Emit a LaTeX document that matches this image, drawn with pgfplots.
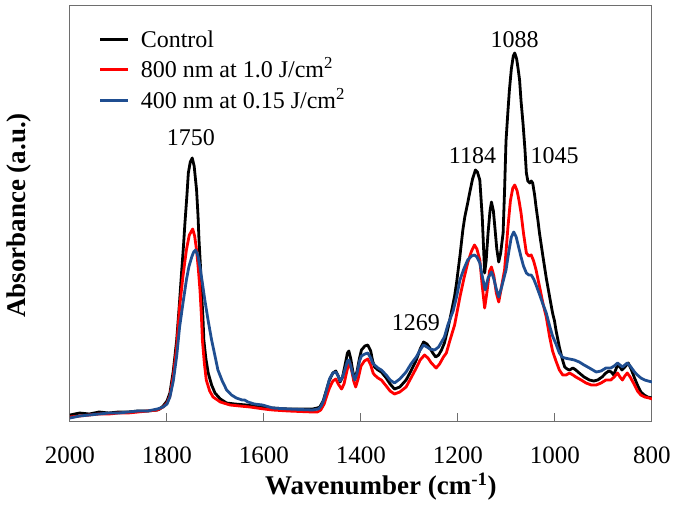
\documentclass[border=0pt]{standalone}
\usepackage{fontspec}
\setmainfont{Liberation Serif}
\usepackage{pgfplots}
\pgfplotsset{compat=1.18}
\definecolor{myblue}{RGB}{31,78,145}
\definecolor{axgray}{RGB}{110,110,110}
\begin{document}
\begin{tikzpicture}[x=1pt,y=1pt]
\useasboundingbox (0,0) rectangle (675,507);
\begin{axis}[
  at={(70pt,86pt)}, anchor=south west,
  scale only axis, width=582pt, height=415pt,
  xmin=800, xmax=2000, ymin=0, ymax=415,
  x dir=reverse,
  xtick={800,1000,1200,1400,1600,1800,2000},
  ytick=\empty,
  xtick pos=bottom, tick align=inside,
  major tick length=8pt,
  axis line style={axgray, line width=1pt},
  every tick/.style={axgray, line width=1pt},
  /pgf/number format/assume math mode=true,
  /pgf/number format/set thousands separator={},
  xticklabel style={font=\rmfamily\fontsize{25}{30}\selectfont, anchor=base, yshift=-42pt},
  xlabel={\textbf{Wavenumber (cm\textsuperscript{-1})}},
  ylabel={\textbf{Absorbance (a.u.)}},
  xlabel style={font=\fontsize{27}{32}\selectfont, at={(axis description cs:0.534,-0.176)}, anchor=base},
  ylabel style={font=\fontsize{27}{32}\selectfont, at={(axis description cs:-0.0773,0.495)}, anchor=base, rotate=0},
  legend style={draw=none, fill=none, inner sep=0pt, outer sep=0pt,
    at={(axis description cs:0.0498,0.944)}, anchor=north west,
    font=\rmfamily\fontsize{24}{24}\selectfont, row sep=4.5pt, column sep=10pt,
    nodes={inner sep=1pt, text height=17pt, text depth=7pt}},
  legend cell align=left,
  legend image code/.code={\draw[#1, line width=2.8pt] (0pt,0.3em) -- (28pt,0.3em);},
  every axis plot/.append style={line width=2.8pt, line join=round},
  clip=true,
]
\addplot[black] coordinates {
(2000,6)(1980,8)(1960,7)(1940,9)(1920,8)(1900,9)(1880,9)(1860,10)(1840,10)(1820,11)
(1815,12)(1808,15)(1800,20)(1794,28)(1787,50)(1780,81)(1775,113)(1770,148)(1766,175)(1763,198)
(1759,225)(1756,248)(1752,259)(1748,263)(1744,255)(1739,231)(1736,205)(1734,181)(1731,155)(1729,131)
(1726,105)(1724,81)(1720,63)(1715,48)(1708,36)(1701,28)(1690,22)(1677,18)(1660,17)(1636,16)
(1610,14)(1582,13)(1550,12)(1500,12)(1490,13)(1485,14)(1478,20)(1470,33)(1465,41)(1458,48)
(1452,50)(1447,45)(1443,39)(1438,44)(1432,58)(1428,68)(1425,70)(1421,62)(1417,50)(1413,41)
(1408,50)(1403,63)(1399,71)(1392,75)(1386,76)(1380,70)(1376,60)(1372,54)(1365,51)(1358,49)
(1348,43)(1340,37)(1331,32)(1320,34)(1307,41)(1297,50)(1286,61)(1278,72)(1271,79)(1264,77)
(1258,73)(1252,68)(1246,64)(1240,66)(1234,71)(1228,78)(1221,92)(1214,108)(1207,125)(1203,138)
(1196,165)(1190,191)(1186,204)(1180,218)(1176,228)(1170,242)(1164,251)(1160,249)(1155,241)(1150,204)
(1147,170)(1145,148)(1142,160)(1138,188)(1134,210)(1131,219)(1127,210)(1124,194)(1120,172)(1116,159)
(1112,168)(1107,188)(1104,230)(1101,280)(1097,310)(1094,331)(1090,352)(1086,365)(1083,368)(1079,362)
(1076,352)(1073,341)(1070,320)(1066,298)(1062,272)(1059,248)(1056,240)(1052,238)(1049,240)(1046,238)
(1042,226)(1039,214)(1035,200)(1032,188)(1025,165)(1018,143)(1011,124)(1005,108)(1001,100)(998,91)
(991,74)(985,62)(980,54)(975,52)(970,51)(963,53)(957,51)(950,48)(940,44)(929,41)
(920,40)(912,41)(903,44)(895,48)(889,50)(884,49)(879,46)(875,51)(871,56)(866,54)
(862,51)(856,54)(849,58)(843,52)(836,43)(830,36)(823,29)(816,26)(809,24)(800,23)
};
\addlegendentry{Control}
\addplot[red] coordinates {
(2000,4)(1980,5)(1960,6)(1940,7)(1920,7)(1900,8)(1880,8)(1860,9)(1840,10)(1820,11)
(1808,14)(1800,18)(1794,25)(1787,45)(1780,74)(1774,114)(1767,145)(1760,171)(1754,186)(1747,192)
(1743,185)(1739,171)(1735,150)(1732,131)(1729,105)(1727,81)(1723,58)(1719,41)(1712,30)(1705,24)
(1690,19)(1670,16)(1650,15)(1629,14)(1600,12)(1582,11)(1550,10)(1500,9)(1490,9)(1483,11)
(1476,17)(1470,26)(1465,33)(1458,40)(1452,42)(1447,37)(1440,32)(1435,37)(1430,48)(1426,56)
(1423,58)(1419,50)(1415,40)(1411,34)(1406,42)(1400,55)(1393,60)(1386,62)(1380,56)(1375,48)
(1372,46)(1365,43)(1358,41)(1348,35)(1340,30)(1331,27)(1320,29)(1307,34)(1297,43)(1286,53)
(1278,61)(1269,66)(1262,63)(1255,58)(1245,53)(1238,57)(1230,64)(1224,68)(1217,80)(1207,96)
(1196,124)(1188,142)(1180,158)(1172,170)(1166,176)(1161,172)(1155,161)(1150,135)(1145,113)(1140,130)
(1135,150)(1131,154)(1126,145)(1121,128)(1116,119)(1110,135)(1104,151)(1100,175)(1097,194)(1092,220)
(1087,233)(1083,236)(1078,230)(1074,220)(1070,208)(1065,188)(1059,168)(1054,165)(1049,166)(1044,160)
(1039,151)(1030,130)(1025,118)(1018,104)(1011,84)(1005,70)(998,60)(991,51)(984,46)(977,46)
(970,48)(963,46)(957,44)(946,41)(936,38)(925,36)(915,36)(905,38)(895,41)(885,41)
(878,44)(871,48)(866,44)(861,41)(856,45)(851,48)(845,44)(836,36)(830,30)(823,26)
(815,24)(806,23)(800,22)
};
\addlegendentry{800 nm at 1.0 J/cm\textsuperscript{2}}
\addplot[myblue] coordinates {
(2000,3)(1980,5)(1960,6)(1940,7)(1920,8)(1900,8)(1880,9)(1860,10)(1840,10)(1820,12)
(1808,14)(1800,17)(1794,24)(1787,40)(1780,65)(1774,94)(1767,118)(1760,141)(1755,154)(1749,164)
(1745,169)(1741,171)(1736,165)(1732,154)(1727,138)(1722,121)(1715,100)(1708,81)(1701,65)(1695,51)
(1686,40)(1677,31)(1667,26)(1657,23)(1645,21)(1640,21)(1633,19)(1620,17)(1603,16)(1582,13)
(1550,12)(1500,11)(1488,12)(1482,15)(1476,22)(1470,33)(1465,42)(1458,48)(1452,49)(1447,45)
(1443,40)(1438,44)(1432,53)(1428,60)(1425,61)(1421,55)(1417,47)(1413,41)(1408,48)(1403,60)
(1399,65)(1392,67)(1386,68)(1380,63)(1376,58)(1372,56)(1365,53)(1358,51)(1348,46)(1340,41)
(1331,38)(1320,42)(1307,49)(1297,57)(1286,64)(1278,71)(1271,76)(1264,74)(1258,72)(1248,71)
(1240,74)(1234,79)(1228,84)(1221,96)(1214,105)(1210,110)(1203,124)(1196,141)(1188,152)(1180,161)
(1172,165)(1166,166)(1161,164)(1155,158)(1150,145)(1144,131)(1138,143)(1131,149)(1126,142)(1121,132)
(1116,124)(1110,134)(1101,151)(1095,170)(1090,184)(1085,189)(1080,184)(1075,174)(1070,164)(1065,155)
(1059,148)(1054,146)(1049,146)(1044,142)(1039,136)(1030,124)(1025,117)(1018,108)(1011,95)(1005,85)
(998,77)(991,68)(985,64)(980,63)(970,62)(960,61)(950,59)(940,56)(929,53)(915,49)
(905,50)(895,53)(885,53)(878,55)(871,58)(866,56)(861,54)(856,56)(851,58)(845,55)
(836,49)(830,46)(823,43)(815,41)(808,40)(800,39)
};
\addlegendentry{400 nm at 0.15 J/cm\textsuperscript{2}}
\node[font=\rmfamily\fontsize{24}{24}\selectfont, anchor=base] at (axis cs:1751,276) {1750};
\node[font=\rmfamily\fontsize{24}{24}\selectfont, anchor=base] at (axis cs:1170,258) {1184};
\node[font=\rmfamily\fontsize{24}{24}\selectfont, anchor=base] at (axis cs:1083,373) {1088};
\node[font=\rmfamily\fontsize{24}{24}\selectfont, anchor=base] at (axis cs:1001,258) {1045};
\node[font=\rmfamily\fontsize{24}{24}\selectfont, anchor=base] at (axis cs:1287,91) {1269};
\end{axis}
\end{tikzpicture}
\end{document}
